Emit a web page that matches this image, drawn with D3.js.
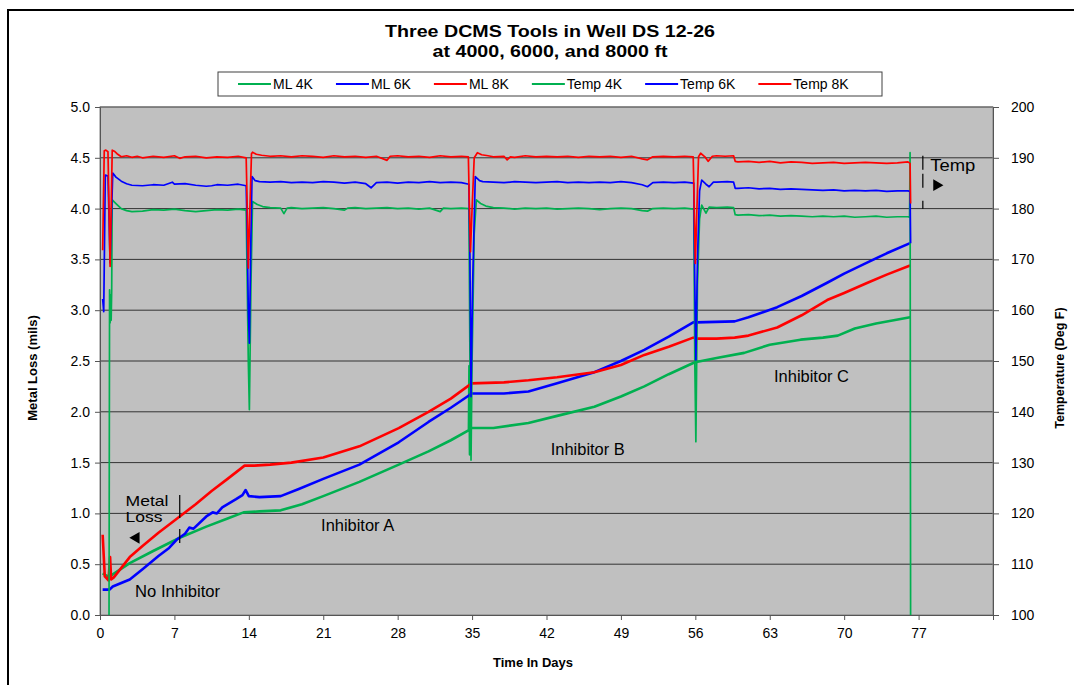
<!DOCTYPE html>
<html>
<head>
<meta charset="utf-8">
<script src="https://cdn.jsdelivr.net/npm/d3@7"></script>
<style>
body { margin: 0; background: #fff; }
svg { display: block; font-family: "Liberation Sans", Arial, sans-serif; }
</style>
</head>
<body>
<div id="chart"></div>
<script>
const WIDTH = 1074;
const HEIGHT = 685;
const PLOT = {left: 100, right: 993, top: 107, bottom: 615};

// ticks
const DAY_TICKS = [0, 7, 14, 21, 28, 35, 42, 49, 56, 63, 70, 77];
const ML_TICKS = [0, 0.5, 1, 1.5, 2, 2.5, 3, 3.5, 4, 4.5, 5];
const TEMP_TICKS = [100, 110, 120, 130, 140, 150, 160, 170, 180, 190, 200];

const SERIES_NAMES = ["ML 4K", "ML 6K", "ML 8K", "Temp 4K", "Temp 6K", "Temp 8K"];
const SERIES_COLORS = ["#00b050", "#0000ff", "#ff0000", "#00b050", "#0000ff", "#ff0000"];

// metal loss (mils) vs day
const ml4k = [[0.25,0.41],[0.9,0.37],[1.2,0.40],[2.8,0.51],[5,0.63],[7.5,0.76],[10,0.87],[12,0.95],
  [13.5,1.01],[15,1.02],[17,1.03],[19,1.09],[21,1.17],[24.4,1.31],[28.1,1.48],[30.9,1.61],[33,1.72],
  [34.7,1.82],[34.75,2.45],[34.8,1.58],[34.85,1.84],[37,1.84],[40.3,1.89],[43,1.96],[46.5,2.05],
  [49,2.15],[51.2,2.25],[53.5,2.37],[55.8,2.48],[56.1,2.49],[58,2.53],[60.6,2.58],[63,2.66],
  [65.9,2.71],[68,2.73],[69.4,2.75],[71,2.82],[73,2.87],[76.2,2.93]];
const ml6k = [[0.25,0.25],[0.9,0.25],[1.2,0.28],[2.8,0.35],[4,0.45],[5.5,0.58],[6.5,0.66],[7.2,0.74],
  [8,0.80],[8.4,0.86],[8.8,0.85],[10,0.97],[10.6,1.01],[11,1.00],[11.5,1.06],[12.8,1.14],[13.4,1.18],
  [13.7,1.23],[14.0,1.17],[15,1.16],[17,1.17],[18.7,1.24],[21,1.34],[24.4,1.48],[28.1,1.70],
  [30.9,1.90],[33,2.04],[34.7,2.16],[34.9,2.18],[38,2.18],[40.3,2.20],[43,2.28],[46.5,2.39],
  [49,2.50],[51.2,2.61],[53.5,2.74],[55.8,2.88],[56.1,2.88],[59.7,2.89],[61,2.93],[63.7,3.03],
  [66,3.14],[68.4,3.27],[70,3.36],[72.2,3.47],[74,3.56],[76.2,3.66]];
const ml8k = [[0.25,0.79],[0.45,0.38],[0.8,0.34],[0.95,0.57],[1.05,0.35],[1.3,0.37],[2.8,0.57],
  [4,0.68],[5.5,0.81],[7.5,0.97],[9,1.09],[10.5,1.22],[12,1.34],[13.6,1.47],[14.5,1.47],[16,1.48],
  [18,1.50],[21,1.55],[24.4,1.66],[28.1,1.84],[30.9,2.00],[33,2.13],[34.7,2.26],[34.9,2.28],
  [38,2.29],[40.3,2.31],[43,2.34],[46.5,2.39],[49,2.46],[51.2,2.56],[53.5,2.64],[55.8,2.73],
  [56.1,2.72],[58,2.72],[59.7,2.73],[61,2.75],[63.7,2.83],[66,2.95],[68.4,3.10],[70,3.17],
  [72.2,3.27],[74,3.35],[76.2,3.44]];

// temperature (deg F) vs day
const temp4k = [[0.85,100],[0.9,164],[0.95,157.5],[1.0,163],[1.05,158],[1.1,164],[1.15,181.7],
  [1.5,181],[2,180],[2.5,179.6],[3,179.4],[4,179.5],[5,179.8],[6,179.7],[7,179.9],[8,179.6],
  [9,179.4],[10,179.6],[11,179.8],[12,179.7],[13,179.9],[13.75,179.7],[13.85,165],[13.95,150],
  [14.05,140.4],[14.2,165],[14.35,181.4],[14.8,180.8],[15.3,180.4],[16,180.2],[17,180.1],
  [17.3,179.0],[17.6,180.1],[18,180.2],[19,180.0],[20,180.1],[21,180.2],[22,180.0],[23,179.7],
  [23.3,180.1],[24,180.2],[25,180.0],[26,180.1],[27,180.2],[28,180.0],[29,180.1],[30,179.9],
  [31,180.1],[32,179.4],[32.3,180.1],[33,180.0],[34,180.1],[34.7,180.0],[34.8,150],[34.9,130.5],
  [35.0,150],[35.2,175],[35.4,181.7],[35.8,181],[36.3,180.5],[37,180.2],[38,180.1],[39,179.9],
  [40,180.1],[41,180.0],[42,180.1],[43,179.9],[44,180.0],[45,180.1],[46,180.0],[47,179.8],
  [48,180.0],[49,180.1],[50,180.0],[51,179.6],[51.5,179.5],[52,180.0],[53,180.1],[54,180.0],
  [55,180.1],[55.85,179.9],[55.95,150],[56.05,134.1],[56.2,165],[56.4,178],[56.6,180.7],
  [57,179.1],[57.3,180.3],[58,180.2],[59,180.3],[59.6,180.2],[59.75,178.8],[60,178.7],[61,178.8],
  [62,178.6],[63,178.7],[64,178.5],[65,178.6],[66,178.5],[67,178.4],[68,178.5],[69,178.4],
  [70,178.5],[71,178.3],[72,178.4],[73,178.5],[74,178.3],[75,178.4],[76,178.4],[76.15,178.3],
  [76.2,191],[76.25,100]];
const temp6k = [[0.25,162.2],[0.35,159.7],[0.5,186.6],[0.75,186.4],[0.85,178],[0.95,169.3],
  [1.1,180],[1.2,187],[1.5,186.2],[2,185.4],[2.5,184.9],[3,184.6],[4,184.5],[5,184.7],[6,184.6],
  [6.8,185.2],[7,184.8],[8,184.9],[9,184.6],[10,184.4],[10.5,184.5],[11,184.7],[12,184.6],
  [13,184.8],[13.75,184.5],[13.85,175],[13.95,160],[14.05,153.5],[14.2,175],[14.3,186.3],
  [14.6,185.5],[15,185.3],[16,185.2],[17,185.3],[18,185.1],[19,185.2],[20,185.1],[21,185.3],
  [22,185.2],[23,185.0],[24,185.2],[25,184.9],[25.5,184.1],[26,185.1],[27,185.2],[28,185.0],
  [29,185.2],[30,185.1],[31,185.3],[32,185.1],[33,185.2],[34,185.1],[34.7,184.8],[34.8,170],
  [34.9,143],[35.05,165],[35.3,186.3],[35.7,185.5],[36,185.3],[37,185.2],[38,185.1],[39,185.3],
  [40,185.2],[41,185.1],[42,185.2],[43,185.3],[44,185.1],[45,185.2],[46,185.1],[47,185.2],
  [48,185.1],[49,185.3],[50,185.1],[51,184.7],[51.5,184.3],[52,185.1],[53,185.2],[54,185.1],
  [55,185.2],[55.85,185.0],[55.95,165],[56.05,150.2],[56.2,170],[56.4,183.5],[56.6,185.6],
  [57.0,184.8],[57.3,184.3],[57.7,185.2],[58,185.2],[59,185.3],[59.6,185.2],[59.75,184.0],
  [60,184.0],[61,184.1],[62,183.9],[63,184.0],[64,183.8],[65,183.9],[66,183.8],[67,183.7],
  [68,183.6],[69,183.7],[70,183.5],[71,183.6],[72,183.5],[73,183.6],[74,183.4],[75,183.5],
  [76,183.5],[76.2,183.4],[76.25,173.2]];
const temp8k = [[0.25,171.8],[0.4,191.4],[0.55,191.5],[0.75,191.2],[0.85,180],[0.95,168.6],
  [1.05,180],[1.15,191.5],[1.35,191.3],[1.6,190.8],[2.0,190.2],[2.5,190.4],[3,190.1],[3.5,190.3],
  [4,190.0],[5,190.3],[6,190.1],[7,190.4],[7.5,189.9],[8,190.2],[9,190.3],[10,190.0],[11,190.2],
  [12,190.1],[13,190.3],[13.75,190.0],[13.85,180],[13.95,168.3],[14.1,180],[14.25,190.8],
  [14.35,191.1],[14.7,190.7],[15.2,190.5],[16,190.3],[17,190.4],[18,190.2],[19,190.4],[20,190.3],
  [21,190.1],[22,190.4],[23,190.2],[24,190.3],[25,190.1],[26,190.3],[27,189.5],[27.3,190.3],
  [28,190.4],[29,190.2],[30,190.3],[31,190.1],[32,190.4],[33,190.2],[34,190.3],[34.65,190.2],
  [34.75,180],[34.85,171.5],[35.0,180],[35.2,190],[35.5,191.0],[35.9,190.6],[36.5,190.4],
  [37,190.2],[38,190.3],[38.3,189.6],[38.6,190.2],[39,190.1],[40,190.4],[41,190.2],[42,190.3],
  [43,190.2],[44,190.3],[45,190.1],[46,190.3],[47,190.2],[48,190.3],[49,190.1],[50,190.3],
  [51,189.8],[51.5,189.6],[52,190.2],[53,190.3],[54,190.2],[55,190.3],[55.8,190.2],[55.9,180],
  [56.0,169.2],[56.15,180],[56.3,190.2],[56.5,190.9],[56.9,190.2],[57.2,189.3],[57.6,190.3],
  [58,190.4],[58.8,190.3],[59.6,190.4],[59.75,189.3],[60,189.2],[61,189.3],[62,189.1],[63,189.3],
  [64,189.0],[65,189.2],[66,189.1],[67,188.9],[68,189.0],[69,189.1],[70,188.9],[71,189.0],
  [72,189.1],[73,189.0],[74,188.9],[75,189.0],[76,189.2],[76.2,188.9],[76.25,181]];

// text labels placed in data units (day, mils)
const NOTES = [
  {text: "No Inhibitor", day: 3.3, val: 0.18, size: 16, len: 85},
  {text: "Inhibitor A", day: 20.8, val: 0.83, size: 16, len: 73},
  {text: "Inhibitor B", day: 42.4, val: 1.57, size: 16, len: 74},
  {text: "Inhibitor C", day: 63.4, val: 2.29, size: 16, len: 75},
  {text: "Metal", day: 2.4, val: 1.07, size: 15, len: 43},
  {text: "Loss", day: 2.4, val: 0.92, size: 15, len: 37},
  {text: "Temp", day: 78.1, val: 4.37, size: 16, len: 45}
];

var x = d3.scaleLinear().domain([0, 84]).range([PLOT.left, PLOT.right]);
var y = d3.scaleLinear().domain([0, 5]).range([PLOT.bottom, PLOT.top]);
var yT = d3.scaleLinear().domain([100, 200]).range([PLOT.bottom, PLOT.top]);

var svg = d3.select("#chart").append("svg")
    .attr("width", WIDTH)
    .attr("height", HEIGHT);

// chart area border (right/bottom run off the picture)
svg.append("rect")
    .attr("x", 8).attr("y", 10)
    .attr("width", 1080).attr("height", 690)
    .attr("fill", "#fff").attr("stroke", "#000").attr("stroke-width", 2);

// title
var title = svg.append("g").attr("font-weight", "bold").attr("text-anchor", "middle");
title.append("text").attr("x", 550).attr("y", 37).attr("font-size", 17)
    .attr("textLength", 330).attr("lengthAdjust", "spacingAndGlyphs")
    .text("Three DCMS Tools in Well DS 12-26");
title.append("text").attr("x", 550).attr("y", 57).attr("font-size", 17)
    .attr("textLength", 235).attr("lengthAdjust", "spacingAndGlyphs")
    .text("at 4000, 6000, and 8000 ft");

// legend
svg.append("rect")
    .attr("x", 218).attr("y", 72).attr("width", 664).attr("height", 24)
    .attr("fill", "#fff").attr("stroke", "#404040").attr("stroke-width", 1);
var legend = svg.append("g");
var lx = 238;
SERIES_NAMES.forEach(function (name, i) {
    legend.append("line")
        .attr("x1", lx).attr("x2", lx + 33).attr("y1", 84).attr("y2", 84)
        .attr("stroke", SERIES_COLORS[i]).attr("stroke-width", 2);
    var t = legend.append("text")
        .attr("x", lx + 35).attr("y", 89).attr("font-size", 14).text(name);
    lx += 35 + t.node().getComputedTextLength() + 23;
});

// plot area
svg.append("rect")
    .attr("x", PLOT.left).attr("y", PLOT.top)
    .attr("width", PLOT.right - PLOT.left).attr("height", PLOT.bottom - PLOT.top)
    .attr("fill", "#c0c0c0");

svg.append("g").selectAll("line")
    .data(ML_TICKS.filter(function (d) { return d > 0; }))
    .enter().append("line")
    .attr("x1", PLOT.left).attr("x2", PLOT.right)
    .attr("y1", function (d) { return y(d); }).attr("y2", function (d) { return y(d); })
    .attr("stroke", "#333").attr("stroke-width", 1);

svg.append("rect")
    .attr("x", PLOT.left).attr("y", PLOT.top)
    .attr("width", PLOT.right - PLOT.left).attr("height", PLOT.bottom - PLOT.top)
    .attr("fill", "none").attr("stroke", "#808080").attr("stroke-width", 1);

svg.append("clipPath").attr("id", "clip").append("rect")
    .attr("x", PLOT.left).attr("y", PLOT.top)
    .attr("width", PLOT.right - PLOT.left).attr("height", PLOT.bottom - PLOT.top);

var mlLine = d3.line().x(function (d) { return x(d[0]); }).y(function (d) { return y(d[1]); });
var tLine = d3.line().x(function (d) { return x(d[0]); }).y(function (d) { return yT(d[1]); });

var lines = svg.append("g").attr("clip-path", "url(#clip)")
    .attr("fill", "none").attr("stroke-linejoin", "round");
[ml4k, ml6k, ml8k].forEach(function (data, i) {
    lines.append("path").datum(data).attr("d", mlLine)
        .attr("stroke", SERIES_COLORS[i]).attr("stroke-width", 2.6);
});
[temp4k, temp6k, temp8k].forEach(function (data, i) {
    lines.append("path").datum(data).attr("d", tLine)
        .attr("stroke", SERIES_COLORS[i + 3]).attr("stroke-width", 1.7);
});

// axes
function styleAxis(g) {
    g.selectAll("path, line").attr("stroke", "#555");
    g.selectAll("text").attr("font-size", 14).attr("fill", "#000").attr("font-family", "Liberation Sans, Arial, sans-serif");
}
svg.append("g").attr("transform", "translate(" + PLOT.left + ",0)")
    .call(d3.axisLeft(y).tickValues(ML_TICKS).tickFormat(d3.format(".1f")).tickSizeOuter(0).tickSize(5).tickPadding(5))
    .call(styleAxis);
svg.append("g").attr("transform", "translate(" + PLOT.right + ",0)")
    .call(d3.axisRight(yT).tickValues(TEMP_TICKS).tickSizeOuter(0).tickSize(6).tickPadding(12))
    .call(styleAxis);
svg.append("g").attr("transform", "translate(0," + PLOT.bottom + ")")
    .call(d3.axisBottom(x).tickValues(DAY_TICKS).tickSizeOuter(0).tickSize(5).tickPadding(8))
    .call(styleAxis);

// axis titles
svg.append("text").attr("x", 533).attr("y", 667).attr("text-anchor", "middle")
    .attr("font-size", 13).attr("font-weight", "bold").text("Time In Days");
svg.append("text").attr("transform", "translate(37,368) rotate(-90)").attr("text-anchor", "middle")
    .attr("font-size", 13).attr("font-weight", "bold").text("Metal Loss (mils)");
svg.append("text").attr("transform", "translate(1064,368) rotate(-90)").attr("text-anchor", "middle")
    .attr("font-size", 12.5).attr("font-weight", "bold").text("Temperature (Deg F)");

// notes
var notes = svg.append("g");
NOTES.forEach(function (n) {
    notes.append("text").attr("x", x(n.day)).attr("y", y(n.val))
        .attr("font-size", n.size).attr("fill", "#000")
        .attr("textLength", n.len).attr("lengthAdjust", "spacingAndGlyphs")
        .text(n.text);
});
// arrows and marker dashes
notes.append("path")
    .attr("d", d3.symbol().type(d3.symbolTriangle).size(60))
    .attr("transform", "translate(" + x(3.4) + "," + y(0.76) + ") rotate(-90)")
    .attr("fill", "#000");
notes.append("path")
    .attr("d", d3.symbol().type(d3.symbolTriangle).size(60))
    .attr("transform", "translate(" + x(78.7) + "," + y(4.23) + ") rotate(90)")
    .attr("fill", "#000");
notes.append("line")
    .attr("x1", x(7.5)).attr("x2", x(7.5)).attr("y1", y(1.18)).attr("y2", y(0.70))
    .attr("stroke", "#000").attr("stroke-width", 1.2).attr("stroke-dasharray", "23,11,14");
notes.append("line")
    .attr("x1", x(77.4)).attr("x2", x(77.4)).attr("y1", y(4.52)).attr("y2", y(3.98))
    .attr("stroke", "#000").attr("stroke-width", 1.2).attr("stroke-dasharray", "14,4,14,13,8");
</script>
</body>
</html>
